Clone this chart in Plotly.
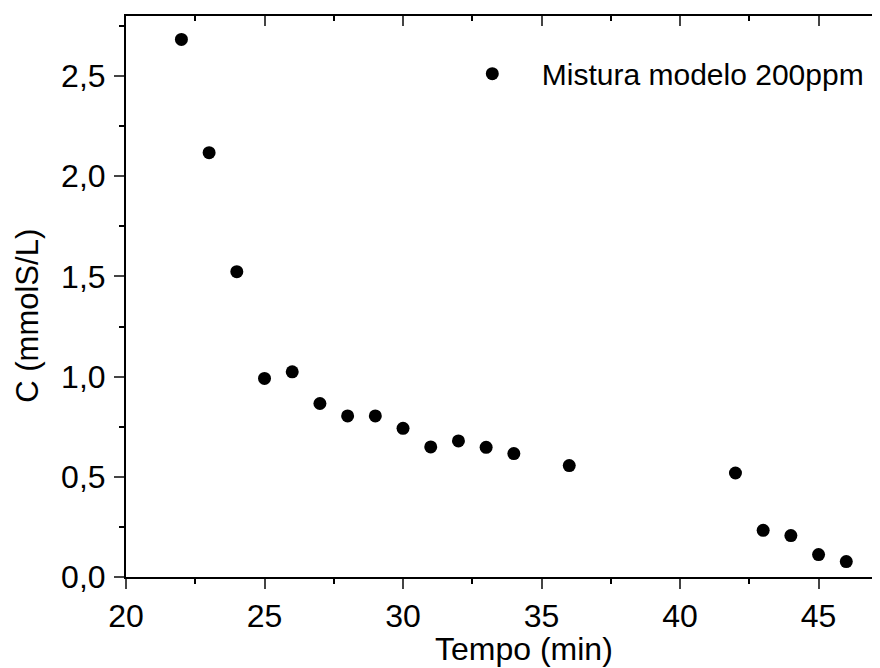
import plotly.graph_objects as go

tempo = [22, 23, 24, 25, 26, 27, 28, 29, 30, 31, 32, 33, 34, 36, 42, 43, 44, 45, 46]
conc = [2.683, 2.118, 1.524, 0.991, 1.024, 0.866, 0.804, 0.804, 0.742, 0.649,
        0.679, 0.647, 0.616, 0.556, 0.519, 0.233, 0.207, 0.112, 0.077]
series_name = "Mistura modelo 200ppm"
x_ticks = [20, 25, 30, 35, 40, 45]
y_ticks = [0.0, 0.5, 1.0, 1.5, 2.0, 2.5]
y_labels = ["0,0", "0,5", "1,0", "1,5", "2,0", "2,5"]

FONT = "Liberation Sans, Arial, sans-serif"
X_RANGE = [20, 47.47]
Y_RANGE = [0, 2.80]

# plot area in figure pixels (page has an 8px body offset)
L, T, B, R = 118, 8, 569.5, 879
W, H = R - L, B - T

fig = go.Figure()
fig.add_trace(go.Scatter(
    x=tempo, y=conc, mode="markers", name=series_name,
    marker=dict(symbol="circle", size=13, color="black"),
))
# invisible trace to activate overlay axes
fig.add_trace(go.Scatter(x=[tempo[0]], y=[conc[0]], xaxis="x2", yaxis="y2",
                         mode="markers", marker=dict(opacity=0), showlegend=False,
                         hoverinfo="skip"))

fig.update_layout(
    width=880, height=668,
    margin=dict(l=L, r=880 - R, t=T, b=668 - B, autoexpand=False),
    paper_bgcolor="white", plot_bgcolor="white",
    font=dict(family=FONT, size=32, color="black"),
    showlegend=True,
    legend=dict(x=(434.8 - L) / W, y=1 - 31.7 / H,
                xanchor="left", yanchor="top", bgcolor="rgba(0,0,0,0)",
                font=dict(size=30, family=FONT), itemwidth=89),
    xaxis=dict(
        range=X_RANGE, tickvals=x_ticks, ticks="outside", ticklen=10, tickwidth=2,
        showline=True, linewidth=2, linecolor="black", showgrid=False, zeroline=False,
        tickfont=dict(size=32), ticklabelstandoff=0, automargin=False,
        minor=dict(dtick=2.5, ticks="outside", ticklen=5, tickwidth=2, tickcolor="black"),
    ),
    yaxis=dict(
        range=Y_RANGE, tickvals=y_ticks, ticktext=y_labels, ticks="outside", ticklen=10,
        tickwidth=2, showline=True, linewidth=2, linecolor="black", showgrid=False,
        zeroline=False, tickfont=dict(size=32), ticklabelstandoff=2, automargin=False,
        minor=dict(dtick=0.25, ticks="outside", ticklen=5, tickwidth=2, tickcolor="black"),
    ),
    xaxis2=dict(
        overlaying="x", side="top", matches="x", range=X_RANGE, tickvals=x_ticks,
        ticks="inside", ticklen=10, tickwidth=2, showticklabels=False, automargin=False,
        showline=True, linewidth=2, linecolor="black", showgrid=False, zeroline=False,
        minor=dict(dtick=2.5, ticks="inside", ticklen=5, tickwidth=2, tickcolor="black"),
    ),
    yaxis2=dict(
        overlaying="y", side="right", range=Y_RANGE, tickvals=y_ticks, automargin=False,
        ticks="inside", ticklen=10, tickwidth=2, showticklabels=False,
        showline=True, linewidth=2, linecolor="black", showgrid=False, zeroline=False,
        minor=dict(dtick=0.25, ticks="inside", ticklen=5, tickwidth=2, tickcolor="black"),
    ),
    annotations=[
        dict(text="Tempo (min)", xref="paper", yref="paper",
             x=(516 - L) / W, y=-72.5 / H,
             xanchor="center", yanchor="middle", showarrow=False,
             font=dict(size=32, family=FONT)),
        dict(text="C (mmolS/L)", xref="paper", yref="paper", textangle=-90,
             x=(20 - L) / W, y=(B - 308) / H,
             xanchor="center", yanchor="middle", showarrow=False,
             font=dict(size=31, family=FONT)),
    ],
)

fig.write_html("out.html")
